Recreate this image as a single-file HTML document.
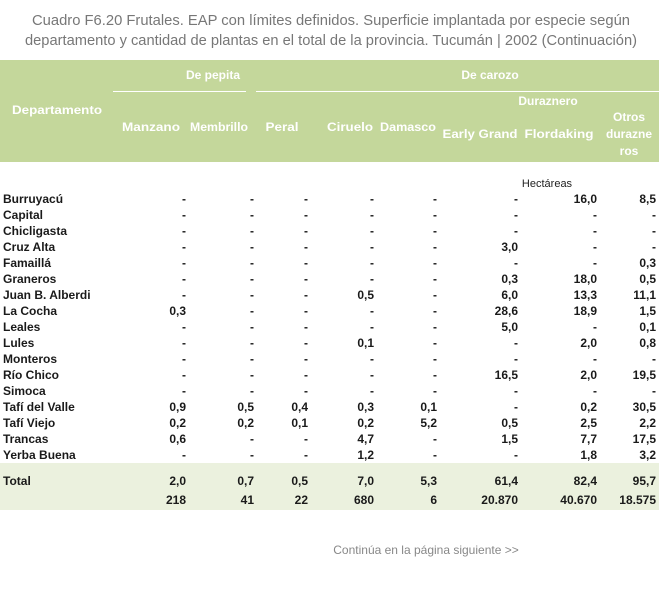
<!DOCTYPE html>
<html><head><meta charset="utf-8"><style>
html,body{margin:0;padding:0;background:#fff;width:659px;height:590px;overflow:hidden}
svg{display:block;font-family:"Liberation Sans",sans-serif}
.h{fill:#fff;font-weight:bold;font-size:12px}
.d{fill:#1a1a1a;font-weight:bold;font-size:12px}
</style></head><body>
<svg id="s" width="659" height="590">
<text x="331" y="25" text-anchor="middle" font-size="15" fill="#777" textLength="598" lengthAdjust="spacingAndGlyphs">Cuadro F6.20  Frutales. EAP con límites definidos. Superficie implantada por especie según</text>
<text x="331" y="45" text-anchor="middle" font-size="15" fill="#777" textLength="612" lengthAdjust="spacingAndGlyphs">departamento y cantidad de plantas en el total de la provincia. Tucumán | 2002 (Continuación)</text>
<rect x="0" y="60" width="659" height="102" fill="#c4d79b"/>
<rect x="0" y="463" width="659" height="47" fill="#ebf1de"/>
<line x1="113" y1="91.5" x2="246" y2="91.5" stroke="#fff"/>
<line x1="256" y1="91.5" x2="659" y2="91.5" stroke="#fff"/>
<text class="h" x="213" y="79" text-anchor="middle">De pepita</text>
<text class="h" x="490" y="79" text-anchor="middle">De carozo</text>
<text class="h" x="12" y="114" textLength="90" lengthAdjust="spacingAndGlyphs">Departamento</text>
<text class="h" x="548" y="105" text-anchor="middle">Duraznero</text>
<text class="h" x="151" y="131" text-anchor="middle" textLength="58" lengthAdjust="spacingAndGlyphs">Manzano</text>
<text class="h" x="219" y="131" text-anchor="middle" textLength="58" lengthAdjust="spacingAndGlyphs">Membrillo</text>
<text class="h" x="282" y="131" text-anchor="middle" textLength="33" lengthAdjust="spacingAndGlyphs">Peral</text>
<text class="h" x="350" y="131" text-anchor="middle" textLength="46" lengthAdjust="spacingAndGlyphs">Ciruelo</text>
<text class="h" x="408" y="131" text-anchor="middle" textLength="56" lengthAdjust="spacingAndGlyphs">Damasco</text>
<text class="h" x="480" y="138" text-anchor="middle" textLength="75" lengthAdjust="spacingAndGlyphs">Early Grand</text>
<text class="h" x="559" y="138" text-anchor="middle" textLength="69" lengthAdjust="spacingAndGlyphs">Flordaking</text>
<text class="h" x="629" y="121" text-anchor="middle">Otros</text>
<text class="h" x="629" y="138" text-anchor="middle">durazne</text>
<text class="h" x="629" y="155" text-anchor="middle">ros</text>
<text x="547" y="187" font-size="11" fill="#222" text-anchor="middle">Hectáreas</text>
<text x="426" y="554" font-size="12" fill="#888" text-anchor="middle">Continúa en la página siguiente &gt;&gt;</text>
</svg>
<script>
const departments=["Burruyacú","Capital","Chicligasta","Cruz Alta","Famaillá","Graneros","Juan B. Alberdi","La Cocha","Leales","Lules","Monteros","Río Chico","Simoca","Tafí del Valle","Tafí Viejo","Trancas","Yerba Buena"];
const manzano=["-","-","-","-","-","-","-","0,3","-","-","-","-","-","0,9","0,2","0,6","-"];
const membrillo=["-","-","-","-","-","-","-","-","-","-","-","-","-","0,5","0,2","-","-"];
const peral=["-","-","-","-","-","-","-","-","-","-","-","-","-","0,4","0,1","-","-"];
const ciruelo=["-","-","-","-","-","-","0,5","-","-","0,1","-","-","-","0,3","0,2","4,7","1,2"];
const damasco=["-","-","-","-","-","-","-","-","-","-","-","-","-","0,1","5,2","-","-"];
const earlyGrand=["-","-","-","3,0","-","0,3","6,0","28,6","5,0","-","-","16,5","-","-","0,5","1,5","-"];
const flordaking=["16,0","-","-","-","-","18,0","13,3","18,9","-","2,0","-","2,0","-","0,2","2,5","7,7","1,8"];
const otros=["8,5","-","-","-","0,3","0,5","11,1","1,5","0,1","0,8","-","19,5","-","30,5","2,2","17,5","3,2"];
const totalHa=["2,0","0,7","0,5","7,0","5,3","61,4","82,4","95,7"];
const totalPlants=["218","41","22","680","6","20.870","40.670","18.575"];
const cols=[manzano,membrillo,peral,ciruelo,damasco,earlyGrand,flordaking,otros];
const colNames=["manzano","membrillo","peral","ciruelo","damasco","early-grand","flordaking","otros"];
const colX=[186,254,308,374,437,518,597,656];
const s=document.getElementById('s');
function t(x,y,str,anchor,name){
  const e=document.createElementNS('http://www.w3.org/2000/svg','text');
  e.setAttribute('x',x);e.setAttribute('y',y);e.setAttribute('class','d');
  if(anchor)e.setAttribute('text-anchor',anchor);
  e.textContent=str;
  
  
  s.appendChild(e);
}
departments.forEach((d,i)=>{
  const y=203+i*16;
  t(3,y,d,null,'department-label');
  cols.forEach((c,j)=>t(colX[j],y,c[i],'end','cell-'+colNames[j]));
});
t(3,485,'Total',null,'total-label');
totalHa.forEach((v,j)=>t(colX[j],485,v,'end','total-hectares'));
totalPlants.forEach((v,j)=>t(colX[j],504,v,'end','total-plants'));
</script>
</body></html>
